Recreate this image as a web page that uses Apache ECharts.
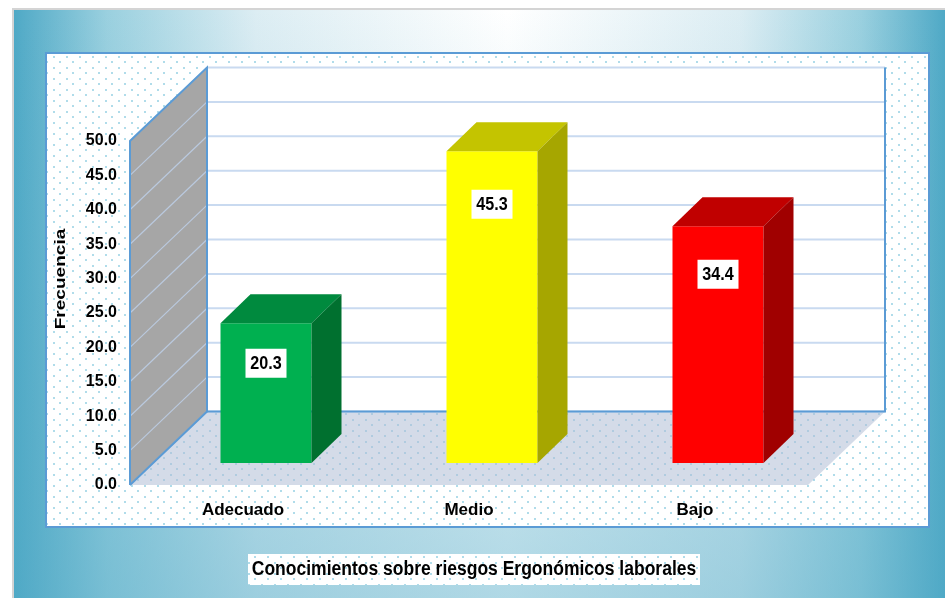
<!DOCTYPE html>
<html><head><meta charset="utf-8">
<style>
html,body{margin:0;padding:0;background:#fff;overflow:hidden}
#bg{position:absolute;left:12px;top:8px;width:933px;height:590px;box-sizing:border-box;border-left:2px solid #d4d4d4;border-top:2px solid #d4d4d4;
background:linear-gradient(to bottom,rgba(79,169,198,0) 0%,rgba(79,169,198,.45) 100%),linear-gradient(to right,#4fa9c6 0%,#9ad0df 10%,#dcedf3 26%,#ffffff 53%,#dcedf3 78%,#9ad0df 91%,#4fa9c6 100%)}
#c{position:absolute;left:0;top:0;width:945px;height:598px}
</style></head><body><div id="bg"></div><div id="c"></div>
<script src="https://cdn.jsdelivr.net/npm/echarts@6/dist/echarts.min.js"></script>
<script>
const categories = ['Adecuado','Medio','Bajo'];
const values = [20.3,45.3,34.4];
const yTicks = [0,5,10,15,20,25,30,35,40,45,50];
const axisTitle = 'Frecuencia';
const chartTitle = 'Conocimientos sobre riesgos Ergonómicos laborales';

const frontColors = ['#00b050','#ffff00','#ff0000'];
const topColors   = ['#008a3e','#c4c400','#c00000'];
const sideColors  = ['#00702f','#a6a600','#a00000'];
const labelDrop = [40,53,48];
const depth = {x:77,y:73.5,barX:23,barY:22,barDX:30,barDY:29,barW:91};
const font = '"Liberation Sans",Arial,sans-serif';

function dots(){
  const c=document.createElement('canvas');c.width=13;c.height=11;
  const g=c.getContext('2d');g.fillStyle='#fff';g.fillRect(0,0,13,11);
  g.fillStyle='#b0dcea';g.fillRect(1,1,2,2);g.fillRect(7,6,2,2);
  return {image:c,repeat:'repeat'};
}
const pattern=dots();

const chart=echarts.init(document.getElementById('c'),null,{renderer:'canvas',width:945,height:598});
const blue='#5b9bd5', gridC='#c9daf0', wallGrid='#bac9de';

chart.setOption({
  animation:false,
  backgroundColor:'transparent',
  graphic:[
    {type:'rect',z:-20,shape:{x:46,y:53,width:883,height:474},style:{fill:pattern,stroke:blue,lineWidth:2}},
    {type:'rect',z:-20,shape:{x:248,y:554,width:452,height:31},style:{fill:pattern}},
    {type:'text',z:10,x:474,y:569,scaleX:0.875,style:{text:chartTitle,align:'center',verticalAlign:'middle',fill:'#000',font:'bold 20px '+font}},
    {type:'text',z:10,x:61,y:279,rotation:Math.PI/2,scaleX:1.36,style:{text:axisTitle,align:'center',verticalAlign:'middle',fill:'#000',font:'bold 14px '+font}}
  ],
  grid:{left:130,top:141,width:678,height:344,outerBoundsMode:'none'},
  xAxis:{type:'category',data:categories,axisLine:{show:false},axisTick:{show:false},splitLine:{show:false},
    axisLabel:{margin:17,color:'#000',fontFamily:font,fontWeight:'bold',fontSize:17}},
  yAxis:{type:'value',min:0,max:50,interval:5,axisLine:{show:false},axisTick:{show:false},splitLine:{show:false},
    axisLabel:{margin:13,color:'#000',fontFamily:font,fontWeight:'bold',fontSize:16,formatter:v=>v.toFixed(1)}},
  series:[
    {type:'custom',z:1,silent:true,data:[0],encode:{x:-1,y:-1},
     renderItem(p,api){
       const s=p.coordSys, L=s.x,R=s.x+s.width,T=s.y,B=s.y+s.height, dx=depth.x,dy=depth.y;
       return {type:'group',children:[
         {type:'polygon',shape:{points:[[L+dx,T-dy],[R+dx,T-dy],[R+dx,B-dy],[L+dx,B-dy]]},style:{fill:'#fff'}},
         {type:'polygon',shape:{points:[[L,B],[L+dx,B-dy],[R+dx,B-dy],[R,B]]},style:{fill:'rgba(176,190,214,0.55)'}},
         {type:'polygon',shape:{points:[[L,B],[L,T],[L+dx,T-dy],[L+dx,B-dy]]},style:{fill:'#a6a6a6'}}
       ]};
     }},
    {type:'custom',z:2,silent:true,data:yTicks.map(v=>[0,v]),encode:{y:1},
     renderItem(p,api){
       const s=p.coordSys, v=api.value(1), y=api.coord([0,v])[1], L=s.x,R=s.x+s.width,dx=depth.x,dy=depth.y;
       return {type:'group',children:[
         {type:'line',shape:{x1:L,y1:y,x2:L+dx,y2:y-dy},style:{stroke:wallGrid,lineWidth:1.2}},
         {type:'line',shape:{x1:L+dx,y1:y-dy,x2:R+dx,y2:y-dy},style:{stroke:gridC,lineWidth:2}}
       ]};
     }},
    {type:'custom',z:3,silent:true,data:[0],encode:{x:-1,y:-1},
     renderItem(p,api){
       const s=p.coordSys, L=s.x,R=s.x+s.width,T=s.y,B=s.y+s.height, dx=depth.x,dy=depth.y;
       const st={stroke:blue,lineWidth:2,fill:null};
       return {type:'group',children:[
         {type:'polyline',shape:{points:[[L,B],[L,T],[L+dx,T-dy],[L+dx,B-dy],[L,B]]},style:st},
         {type:'polyline',shape:{points:[[L+dx,B-dy],[R+dx,B-dy],[R+dx,T-dy]]},style:st}
       ]};
     }},
    {type:'custom',z:4,silent:true,data:categories.map((c,i)=>[i,values[i]]),encode:{x:0,y:1},
     renderItem(p,api){
       const i=p.dataIndex, v=api.value(1), w=depth.barW, ddx=depth.barDX, ddy=depth.barDY;
       const c=api.coord([i,v]), b=api.coord([i,0]);
       const x0=c[0]+depth.barX-w/2, x1=x0+w, t=c[1]-depth.barY, bt=b[1]-depth.barY;
       return {type:'group',children:[
         {type:'polygon',shape:{points:[[x0,t],[x1,t],[x1,bt],[x0,bt]]},style:{fill:frontColors[i]}},
         {type:'polygon',shape:{points:[[x0,t],[x0+ddx,t-ddy],[x1+ddx,t-ddy],[x1,t]]},style:{fill:topColors[i]}},
         {type:'polygon',shape:{points:[[x1,t],[x1+ddx,t-ddy],[x1+ddx,bt-ddy],[x1,bt]]},style:{fill:sideColors[i]}},
         {type:'rect',shape:{x:x0+w/2-20.5,y:t+labelDrop[i]-14.5,width:41,height:29},style:{fill:'#fff'}},
         {type:'text',x:x0+w/2,y:t+labelDrop[i],scaleX:0.85,style:{text:v.toFixed(1),align:'center',verticalAlign:'middle',
            fill:'#000',font:'bold 19px '+font}}
       ]};
     }}
  ]
});
</script></body></html>
